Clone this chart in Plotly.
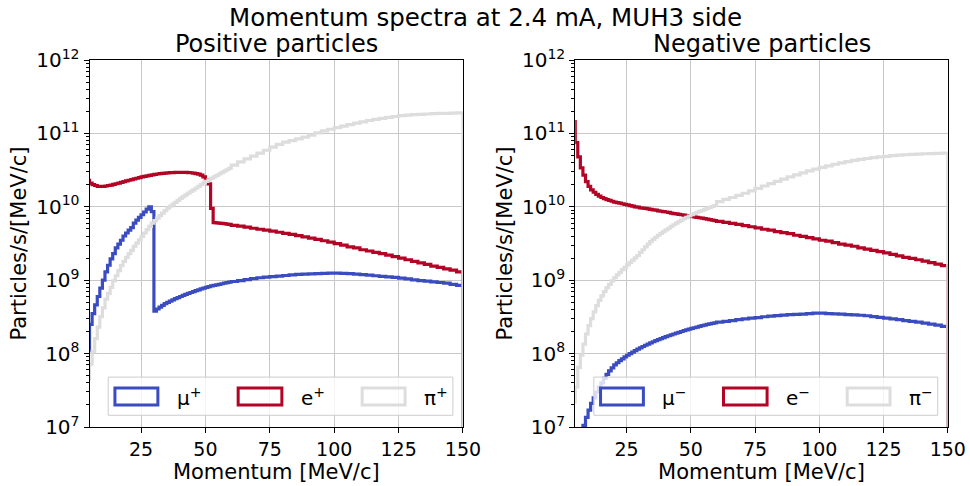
import plotly.graph_objects as go

# bin edges [MeV/c]: 1 MeV bins from 4 to 60, then 2.5 MeV bins up to 150
EDGES_FINE = list(range(4, 61))
EDGES_COARSE = [62.5, 65, 67.5, 70, 72.5, 75, 77.5, 80, 82.5, 85, 87.5, 90,
                92.5, 95, 97.5, 100, 102.5, 105, 107.5, 110, 112.5, 115, 117.5, 120,
                122.5, 125, 127.5, 130, 132.5, 135, 137.5, 140, 142.5, 145, 147.5, 150]
EDGES = EDGES_FINE + EDGES_COARSE

# positive particles, particles/s/[MeV/c]
MU_POS = [1.1e8, 2.5e8, 3.5e8, 4.6e8, 6.0e8, 7.8e8, 1.0e9, 1.3e9, 1.6e9, 1.95e9,
          2.3e9, 2.75e9, 3.1e9, 3.5e9, 4.0e9, 4.4e9, 4.8e9, 5.2e9, 6.0e9, 6.6e9,
          7.2e9, 7.8e9, 8.5e9, 9.3e9, 1.0e10, 8.6e9, 3.8e8, 4.05e8, 4.3e8, 4.55e8,
          4.8e8, 5.0e8, 5.2e8, 5.4e8, 5.6e8, 5.8e8, 6.0e8, 6.2e8, 6.4e8, 6.6e8,
          6.8e8, 7.0e8, 7.2e8, 7.4e8, 7.6e8, 7.8e8, 8.0e8, 8.2e8, 8.35e8, 8.5e8,
          8.65e8, 8.8e8, 8.95e8, 9.1e8, 9.25e8, 9.4e8,
          9.6e8, 9.9e8, 1.02e9, 1.05e9, 1.08e9, 1.1e9, 1.12e9, 1.14e9, 1.16e9, 1.18e9,
          1.2e9, 1.21e9, 1.22e9, 1.23e9, 1.24e9, 1.25e9, 1.25e9, 1.24e9, 1.23e9, 1.21e9,
          1.19e9, 1.17e9, 1.15e9, 1.13e9, 1.11e9, 1.09e9, 1.07e9, 1.04e9, 1.01e9, 9.9e8,
          9.7e8, 9.5e8, 9.3e8, 9.1e8, 8.8e8, 8.5e8, 8.2e8]
E_POS = [2.3e10, 2.1e10, 2.0e10, 1.95e10, 1.9e10, 1.9e10, 1.9e10, 1.92e10, 1.95e10, 1.98e10,
         2.02e10, 2.06e10, 2.1e10, 2.15e10, 2.2e10, 2.25e10, 2.3e10, 2.35e10, 2.4e10, 2.45e10,
         2.5e10, 2.55e10, 2.6e10, 2.64e10, 2.68e10, 2.72e10, 2.76e10, 2.8e10, 2.83e10, 2.86e10,
         2.88e10, 2.9e10, 2.92e10, 2.93e10, 2.94e10, 2.95e10, 2.95e10, 2.95e10, 2.94e10, 2.93e10,
         2.91e10, 2.88e10, 2.84e10, 2.78e10, 2.7e10, 2.55e10, 2.35e10, 2.05e10, 9.5e9, 6.1e9,
         6.05e9, 6.0e9, 5.95e9, 5.9e9, 5.8e9, 5.75e9,
         5.6e9, 5.45e9, 5.3e9, 5.1e9, 4.95e9, 4.8e9, 4.65e9, 4.5e9, 4.35e9, 4.2e9,
         4.05e9, 3.9e9, 3.75e9, 3.6e9, 3.45e9, 3.3e9, 3.15e9, 3.0e9, 2.85e9, 2.75e9,
         2.6e9, 2.5e9, 2.4e9, 2.3e9, 2.2e9, 2.1e9, 2.0e9, 1.9e9, 1.8e9, 1.72e9,
         1.64e9, 1.56e9, 1.5e9, 1.43e9, 1.37e9, 1.3e9]
PI_POS = [4.5e7, 7.2e7, 1.07e8, 1.6e8, 2.3e8, 3.2e8, 4.2e8, 5.5e8, 6.6e8, 8.0e8,
          9.8e8, 1.15e9, 1.35e9, 1.58e9, 1.8e9, 2.05e9, 2.3e9, 2.55e9, 2.9e9, 3.2e9,
          3.55e9, 3.95e9, 4.4e9, 4.9e9, 5.4e9, 6.0e9, 6.5e9, 7.0e9, 7.6e9, 8.2e9,
          8.9e9, 9.6e9, 1.02e10, 1.09e10, 1.15e10, 1.22e10, 1.3e10, 1.38e10, 1.45e10, 1.54e10,
          1.62e10, 1.7e10, 1.8e10, 1.9e10, 2.0e10, 2.12e10, 2.22e10, 2.33e10, 2.44e10, 2.55e10,
          2.67e10, 2.8e10, 2.93e10, 3.07e10, 3.2e10, 3.35e10,
          3.7e10, 4.1e10, 4.5e10, 4.9e10, 5.4e10, 5.9e10, 6.5e10, 7.1e10, 7.6e10, 8.0e10,
          8.4e10, 8.9e10, 9.5e10, 1.02e11, 1.08e11, 1.14e11, 1.2e11, 1.26e11, 1.32e11, 1.38e11,
          1.44e11, 1.5e11, 1.55e11, 1.6e11, 1.65e11, 1.7e11, 1.75e11, 1.78e11, 1.8e11, 1.82e11,
          1.84e11, 1.86e11, 1.87e11, 1.88e11, 1.89e11, 1.9e11]

# negative particles
MU_NEG = [3.0e6, 4.0e6, 5.5e6, 7.5e6, 1.05e7, 1.35e7, 1.7e7, 2.1e7, 2.5e7, 3.0e7,
          3.5e7, 4.0e7, 4.6e7, 5.2e7, 5.8e7, 6.4e7, 7.0e7, 7.5e7, 8.0e7, 8.5e7,
          9.0e7, 9.5e7, 1.0e8, 1.05e8, 1.1e8, 1.15e8, 1.2e8, 1.25e8, 1.3e8, 1.35e8,
          1.4e8, 1.45e8, 1.5e8, 1.55e8, 1.6e8, 1.65e8, 1.7e8, 1.75e8, 1.8e8, 1.85e8,
          1.9e8, 1.95e8, 2.0e8, 2.05e8, 2.1e8, 2.15e8, 2.2e8, 2.25e8, 2.3e8, 2.35e8,
          2.4e8, 2.45e8, 2.5e8, 2.54e8, 2.58e8, 2.62e8,
          2.68e8, 2.75e8, 2.82e8, 2.9e8, 2.97e8, 3.04e8, 3.1e8, 3.18e8, 3.25e8, 3.3e8,
          3.35e8, 3.4e8, 3.43e8, 3.46e8, 3.5e8, 3.55e8, 3.55e8, 3.5e8, 3.47e8, 3.44e8,
          3.4e8, 3.37e8, 3.33e8, 3.28e8, 3.2e8, 3.12e8, 3.05e8, 2.97e8, 2.9e8, 2.82e8,
          2.75e8, 2.68e8, 2.6e8, 2.52e8, 2.45e8, 2.35e8]
E_NEG = [1.45e11, 7.5e10, 4.8e10, 3.4e10, 2.7e10, 2.2e10, 1.9e10, 1.7e10, 1.58e10, 1.48e10,
         1.4e10, 1.34e10, 1.29e10, 1.25e10, 1.22e10, 1.19e10, 1.16e10, 1.14e10, 1.12e10, 1.1e10,
         1.08e10, 1.06e10, 1.04e10, 1.02e10, 1.0e10, 9.9e9, 9.7e9, 9.6e9, 9.5e9, 9.4e9,
         9.2e9, 9.1e9, 9.0e9, 8.8e9, 8.7e9, 8.6e9, 8.5e9, 8.4e9, 8.2e9, 8.1e9,
         8.0e9, 7.9e9, 7.8e9, 7.7e9, 7.6e9, 7.5e9, 7.4e9, 7.3e9, 7.2e9, 7.1e9,
         7.0e9, 6.9e9, 6.8e9, 6.7e9, 6.6e9, 6.5e9,
         6.35e9, 6.15e9, 5.95e9, 5.75e9, 5.55e9, 5.35e9, 5.15e9, 4.95e9, 4.8e9, 4.6e9,
         4.45e9, 4.3e9, 4.1e9, 3.95e9, 3.8e9, 3.65e9, 3.5e9, 3.4e9, 3.25e9, 3.1e9,
         3.0e9, 2.9e9, 2.75e9, 2.65e9, 2.55e9, 2.45e9, 2.35e9, 2.25e9, 2.15e9, 2.05e9,
         1.98e9, 1.9e9, 1.82e9, 1.74e9, 1.66e9, 1.58e9]
PI_NEG = [2.2e7, 3.5e7, 6.5e7, 9.5e7, 1.35e8, 1.85e8, 2.4e8, 3.0e8, 3.7e8, 4.5e8,
          5.3e8, 6.1e8, 7.0e8, 7.9e8, 8.8e8, 9.8e8, 1.08e9, 1.18e9, 1.28e9, 1.39e9,
          1.5e9, 1.62e9, 1.75e9, 1.88e9, 2.02e9, 2.17e9, 2.4e9, 2.6e9, 2.85e9, 3.1e9,
          3.35e9, 3.6e9, 3.85e9, 4.1e9, 4.35e9, 4.6e9, 4.85e9, 5.1e9, 5.4e9, 5.7e9,
          6.0e9, 6.3e9, 6.6e9, 6.9e9, 7.2e9, 7.5e9, 7.8e9, 8.1e9, 8.4e9, 8.65e9,
          8.9e9, 9.2e9, 9.5e9, 9.8e9, 1.01e10, 1.04e10,
          1.18e10, 1.26e10, 1.34e10, 1.43e10, 1.53e10, 1.65e10, 1.78e10, 1.92e10, 2.07e10, 2.22e10,
          2.38e10, 2.55e10, 2.72e10, 2.9e10, 3.08e10, 3.26e10, 3.44e10, 3.62e10, 3.8e10, 3.97e10,
          4.13e10, 4.28e10, 4.42e10, 4.55e10, 4.67e10, 4.78e10, 4.88e10, 4.97e10, 5.05e10, 5.12e10,
          5.18e10, 5.23e10, 5.28e10, 5.32e10, 5.35e10, 5.38e10]

COLORS = {'mu': '#3b4cc0', 'e': '#b40426', 'pi': '#dddddd'}
FONT = 'DejaVu Sans'
Y_TICKS = [1e7, 1e8, 1e9, 1e10, 1e11, 1e12]
Y_TICKTEXT = ['10<sup>%d</sup>' % k for k in range(7, 13)]
Y_MINOR = [m * 10 ** k for k in range(7, 12) for m in range(2, 10)]
X_TICKS = [25, 50, 75, 100, 125, 150]


def step_trace(values, color, xa, ya):
    # histogram outline: step through the bins, then drop at the right edge
    x = EDGES + [EDGES[-1]]
    y = values + [values[-1], 1e4]
    return go.Scatter(x=x, y=y, mode='lines', line=dict(color=color, width=3.2, shape='hv'),
                      xaxis=xa, yaxis=ya, showlegend=False, hoverinfo='skip')


fig = go.Figure()
for xa, ya, series in [('x', 'y', (MU_POS, E_POS, PI_POS)), ('x2', 'y2', (MU_NEG, E_NEG, PI_NEG))]:
    for vals, key in zip(series, ['mu', 'e', 'pi']):
        fig.add_trace(step_trace(vals, COLORS[key], xa, ya))

xaxis_style = dict(range=[5, 150], tickvals=X_TICKS, ticks='outside', ticklen=5, tickcolor='black',
                   showline=True, linecolor='black', linewidth=1, mirror=True, automargin=False,
                   showgrid=True, gridcolor='#c8c8c8', gridwidth=1, zeroline=False,
                   tickfont=dict(size=19, color='black'),
                   title=dict(text='Momentum [MeV/c]', font=dict(size=21, color='black'), standoff=1))
yaxis_style = dict(type='log', range=[7, 12], tickmode='array', tickvals=Y_TICKS, ticktext=Y_TICKTEXT,
                   ticks='outside', ticklen=5, tickcolor='black', automargin=False,
                   minor=dict(tickmode='array', tickvals=Y_MINOR, ticks='outside', ticklen=3,
                              tickcolor='black', showgrid=False),
                   showline=True, linecolor='black', linewidth=1, mirror=True,
                   showgrid=True, gridcolor='#c8c8c8', gridwidth=1, zeroline=False,
                   tickfont=dict(size=20, color='black'),
                   title=dict(text='Particles/s/[MeV/c]', font=dict(size=21, color='black'), standoff=3))

fig.update_layout(
    width=970, height=486,
    margin=dict(l=0, r=0, t=0, b=0, autoexpand=False),
    paper_bgcolor='white', plot_bgcolor='white',
    font=dict(family=FONT, color='black'),
    xaxis=dict(domain=[0.0923, 0.4773], anchor='y', **xaxis_style),
    yaxis=dict(domain=[0.1214, 0.8765], anchor='x', **yaxis_style),
    xaxis2=dict(domain=[0.5930, 0.9771], anchor='y2', **xaxis_style),
    yaxis2=dict(domain=[0.1214, 0.8765], anchor='x2', **yaxis_style),
    showlegend=False,
)

# titles
fig.add_annotation(text='Momentum spectra at 2.4 mA, MUH3 side', x=0.5, y=1 - 17 / 486,
                   xref='paper', yref='paper', xanchor='center', yanchor='middle',
                   showarrow=False, font=dict(size=24.5))
for xc, name in [(0.2848, 'Positive particles'), (0.7851, 'Negative particles')]:
    fig.add_annotation(text=name, x=xc, y=1 - 44 / 486, xref='paper', yref='paper',
                       xanchor='center', yanchor='middle', showarrow=False, font=dict(size=24))

# hand-made legends with box patches
LEG_LABELS = [['μ<sup>+</sup>', 'e<sup>+</sup>', 'π<sup>+</sup>'],
              ['μ<sup>−</sup>', 'e<sup>−</sup>', 'π<sup>−</sup>']]
BOX_X = [(0.068, 0.183), (0.398, 0.515), (0.730, 0.845)]
for panel, (xa, ya) in enumerate([('x', 'y'), ('x2', 'y2')]):
    xd, yd = xa + ' domain', ya + ' domain'
    fig.add_shape(type='rect', xref=xd, yref=yd, x0=0.05, x1=0.973, y0=0.032, y1=0.136,
                  line=dict(color='#cccccc', width=1), fillcolor='rgba(255,255,255,0.8)', layer='above')
    for (bx0, bx1), key, lab in zip(BOX_X, ['mu', 'e', 'pi'], LEG_LABELS[panel]):
        fig.add_shape(type='rect', xref=xd, yref=yd, x0=bx0, x1=bx1, y0=0.060, y1=0.106,
                      line=dict(color=COLORS[key], width=3), fillcolor='rgba(0,0,0,0)', layer='above')
        fig.add_annotation(text=lab, xref=xd, yref=yd, x=bx1 + 0.045, y=0.083,
                           xanchor='left', yanchor='middle', showarrow=False, font=dict(size=20))

# the page's default body margin would shift the figure by 8 px
fig.write_html('out.html', config={'displayModeBar': False},
               post_script="document.body.style.margin='0px';")
